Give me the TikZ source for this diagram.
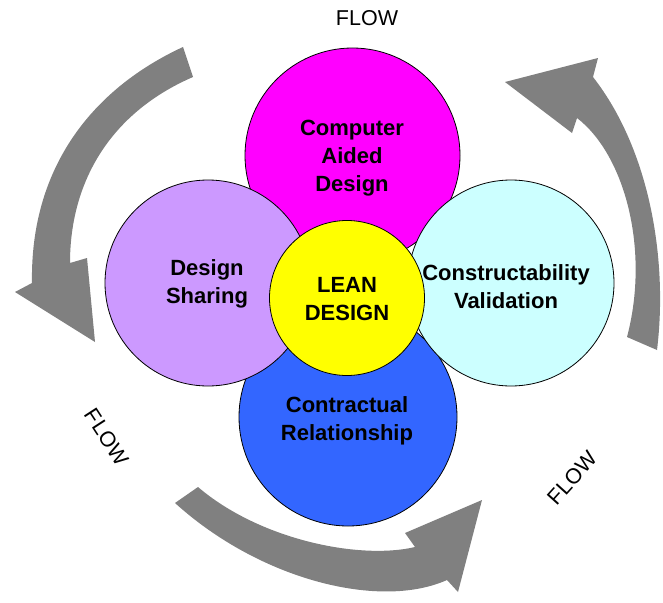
\documentclass[tikz,border=0pt]{standalone}
\usepackage{fontspec}
\setmainfont{Liberation Sans}
\definecolor{cmag}{HTML}{FF00FF}
\definecolor{clav}{HTML}{CC99FF}
\definecolor{ccya}{HTML}{CCFFFF}
\definecolor{cblu}{HTML}{3366FF}
\definecolor{cyel}{HTML}{FFFF00}
\definecolor{cgry}{HTML}{808080}
\tikzset{
  disc/.style={circle, draw=black, line width=0.8pt, inner sep=0pt},
  lbl/.style={align=center, font=\fontsize{22}{28}\selectfont\bfseries, text=black},
  flowlbl/.style={font=\fontsize{21.5}{26}\selectfont, text=black},
  flowarrow/.style={fill=cgry, draw=none}
}
\begin{document}
\begin{tikzpicture}[x=1pt,y=-1pt]
\useasboundingbox (0,0) rectangle (663,602);
% curved flow arrows
\fill[flowarrow] (183,47) .. controls (90,90) and (30,170) .. (32,283)
  -- (15,292) -- (95,342) -- (87,258) -- (70,263)
  .. controls (70,180) and (112,112) .. (193,77) -- cycle;
\fill[flowarrow] (627,337) -- (657,350) .. controls (668,260) and (650,150) .. (593,77)
  -- (598,58) -- (505,82) -- (572,133) -- (577,118)
  .. controls (625,155) and (650,250) .. cycle;
\fill[flowarrow] (175,503) .. controls (260,580) and (380,610) .. (447,580)
  -- (458,592) -- (482,500) -- (405,533) -- (415,547)
  .. controls (360,560) and (260,540) .. (198,487) -- cycle;
% circles
\node[disc, fill=cmag, minimum size=215pt] (cad) at (352.5,155.5) {};
\node[disc, fill=cblu, minimum size=218pt] (cr) at (348,417) {};
\node[disc, fill=clav, minimum size=206pt] (ds) at (208,283) {};
\node[disc, fill=ccya, minimum size=206pt] (cv) at (511,283) {};
\node[disc, fill=cyel, minimum size=155pt] (ld) at (347,298) {};
% labels
\node[lbl] (tcad) at (352,158) {Computer\\Aided\\Design};
\node[lbl] (tds) at (207,284) {Design\\Sharing};
\node[lbl] (tld) at (347,299) {LEAN\\DESIGN};
\node[lbl] (tcv) at (506,287) {Constructability\\Validation};
\node[lbl] (tcr) at (347,421) {Contractual\\Relationship};
% flow labels
\node[flowlbl] (f1) at (367,18) {FLOW};
\node[flowlbl, rotate=-57] (f2) at (107,437) {FLOW};
\node[flowlbl, rotate=48] (f3) at (572,478) {FLOW};
\end{tikzpicture}
\end{document}
